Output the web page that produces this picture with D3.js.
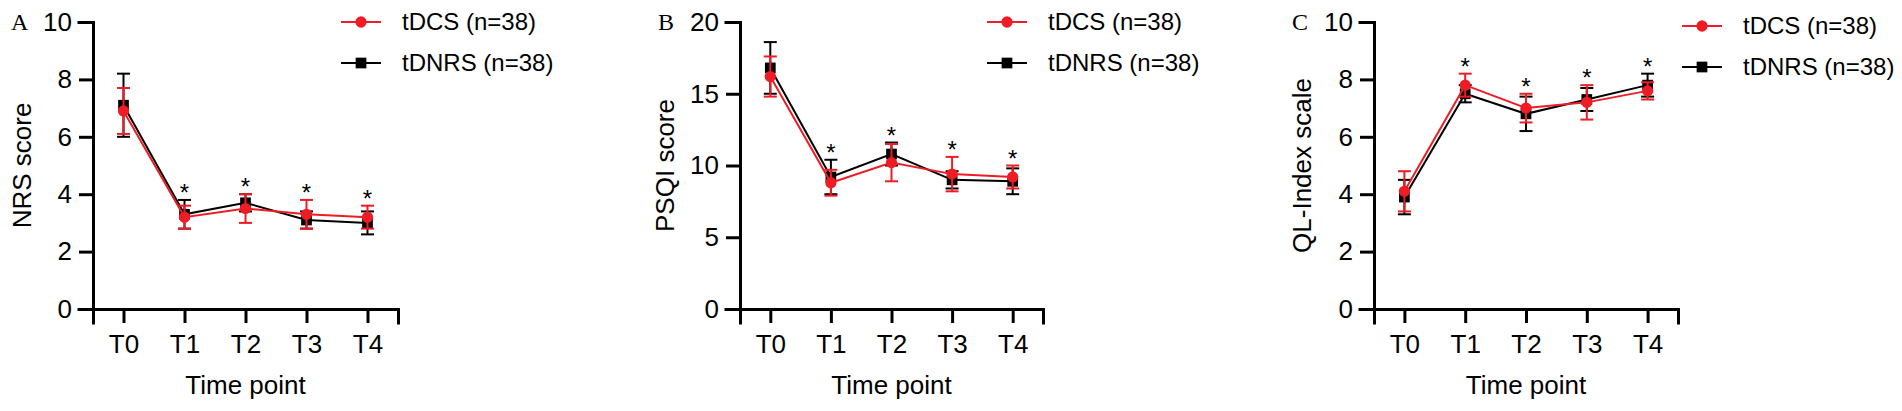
<!DOCTYPE html>
<html>
<head>
<meta charset="utf-8">
<script src="https://cdn.jsdelivr.net/npm/d3@7"></script>
<style>
  html, body { margin: 0; padding: 0; background: #fff; }
  svg { display: block; font-family: Arial, "Liberation Sans", sans-serif; }
</style>
</head>
<body>
<div id="chart"></div>
<script>
// Three panels: NRS, PSQI and QL-Index by time point, tDCS vs tDNRS (mean ± SD)

const timePoints = ["T0", "T1", "T2", "T3", "T4"];
const seriesNames = ["tDCS (n=38)", "tDNRS (n=38)"];
const starred = ["T1", "T2", "T3", "T4"];

// A: NRS score
const nrsDcsMean = [6.9, 3.2, 3.5, 3.3, 3.2];
const nrsDcsSd = [0.8, 0.4, 0.5, 0.5, 0.4];
const nrsDnrsMean = [7.1, 3.3, 3.7, 3.1, 3.0];
const nrsDnrsSd = [1.1, 0.5, 0.3, 0.3, 0.4];

// B: PSQI score
const psqiDcsMean = [16.2, 8.8, 10.2, 9.4, 9.2];
const psqiDcsSd = [1.4, 0.9, 1.3, 1.2, 0.8];
const psqiDnrsMean = [16.8, 9.2, 10.8, 9.0, 8.9];
const psqiDnrsSd = [1.8, 1.2, 0.8, 0.6, 0.9];

// C: QL-Index scale
const qlDcsMean = [4.1, 7.8, 7.0, 7.2, 7.6];
const qlDcsSd = [0.7, 0.4, 0.5, 0.6, 0.3];
const qlDnrsMean = [3.9, 7.5, 6.8, 7.3, 7.8];
const qlDnrsSd = [0.6, 0.3, 0.6, 0.4, 0.4];

const nrsTicks = [0, 2, 4, 6, 8, 10];
const psqiTicks = [0, 5, 10, 15, 20];
const qlTicks = [0, 2, 4, 6, 8, 10];

const W = 1902, H = 411;
const RED = "#ee1c24";
const BLACK = "#000";

const svg = d3.select("#chart").append("svg")
  .attr("width", W)
  .attr("height", H)
  .attr("viewBox", [0, 0, W, H]);

function zip(means, sds) {
  return timePoints.map((t, i) => ({ t, mean: means[i], sd: sds[i] }));
}

const panels = [
  {
    letter: "A", yLabel: "NRS score", ticks: nrsTicks,
    x0: 93, x1: 398, legendX: 341, legendY: 22, titleOff: 62,
    dcs: zip(nrsDcsMean, nrsDcsSd), dnrs: zip(nrsDnrsMean, nrsDnrsSd)
  },
  {
    letter: "B", yLabel: "PSQI score", ticks: psqiTicks,
    x0: 740, x1: 1043, legendX: 987, legendY: 22, titleOff: 66,
    dcs: zip(psqiDcsMean, psqiDcsSd), dnrs: zip(psqiDnrsMean, psqiDnrsSd)
  },
  {
    letter: "C", yLabel: "QL-Index scale", ticks: qlTicks,
    x0: 1374, x1: 1678, legendX: 1682, legendY: 26, titleOff: 63,
    dcs: zip(qlDcsMean, qlDcsSd), dnrs: zip(qlDnrsMean, qlDnrsSd)
  }
];

const yTop = 22, yBottom = 309;

function drawSeries(g, x, y, data, color, shape) {
  const line = d3.line().x(d => x(d.t)).y(d => y(d.mean));
  g.append("path")
    .datum(data)
    .attr("d", line)
    .attr("fill", "none")
    .attr("stroke", color)
    .attr("stroke-width", 2);

  const err = g.append("g").attr("stroke", color).attr("stroke-width", 2);
  data.forEach(d => {
    const cx = x(d.t);
    const hi = y(d.mean + d.sd), lo = y(d.mean - d.sd);
    err.append("line").attr("x1", cx).attr("x2", cx).attr("y1", hi).attr("y2", lo);
    err.append("line").attr("x1", cx - 6.5).attr("x2", cx + 6.5).attr("y1", hi).attr("y2", hi);
    err.append("line").attr("x1", cx - 6.5).attr("x2", cx + 6.5).attr("y1", lo).attr("y2", lo);
  });

  const sym = d3.symbol().type(shape === "circle" ? d3.symbolCircle : d3.symbolSquare)
    .size(shape === "circle" ? 100 : 115);
  g.append("g").selectAll("path")
    .data(data)
    .join("path")
    .attr("transform", d => `translate(${x(d.t)},${y(d.mean)})`)
    .attr("d", sym)
    .attr("fill", color);
}

panels.forEach(p => {
  const g = svg.append("g");
  const yMax = d3.max(p.ticks);

  const x = d3.scalePoint().domain(timePoints).range([p.x0, p.x1]).padding(0.5);
  const y = d3.scaleLinear().domain([0, yMax]).range([yBottom, yTop]);

  // axes
  const xAxis = g.append("g")
    .attr("transform", `translate(0,${yBottom})`)
    .call(d3.axisBottom(x).tickSizeOuter(0).tickSize(14).tickPadding(12));
  const yAxis = g.append("g")
    .attr("transform", `translate(${p.x0},0)`)
    .call(d3.axisLeft(y).tickValues(p.ticks).tickSizeOuter(0).tickSize(14).tickPadding(7));

  [xAxis, yAxis].forEach(a => {
    a.select(".domain").attr("stroke-width", 3).attr("stroke-linecap", "square");
    a.selectAll(".tick line").attr("stroke-width", 3);
    a.selectAll(".tick text")
      .attr("font-size", 26)
      .attr("font-family", "Arial, 'Liberation Sans', sans-serif")
      .attr("fill", "#000");
  });

  // axis titles
  g.append("text")
    .attr("x", (p.x0 + p.x1) / 2)
    .attr("y", 394)
    .attr("text-anchor", "middle")
    .attr("font-size", 26)
    .text("Time point");

  g.append("text")
    .attr("transform", `translate(${p.x0 - p.titleOff},${(yTop + yBottom) / 2}) rotate(-90)`)
    .attr("text-anchor", "middle")
    .attr("font-size", 26)
    .text(p.yLabel);

  // panel letter
  g.append("text")
    .attr("x", p.x0 - 82)
    .attr("y", 30)
    .attr("font-family", "'Liberation Serif', 'DejaVu Serif', serif")
    .attr("font-size", 24)
    .text(p.letter);

  // series: black under red
  drawSeries(g, x, y, p.dnrs, BLACK, "square");
  drawSeries(g, x, y, p.dcs, RED, "circle");

  // significance stars above the highest error bar
  starred.forEach(t => {
    const i = timePoints.indexOf(t);
    const top = Math.max(p.dcs[i].mean + p.dcs[i].sd, p.dnrs[i].mean + p.dnrs[i].sd);
    g.append("text")
      .attr("x", x(t))
      .attr("y", y(top) + 1)
      .attr("text-anchor", "middle")
      .attr("font-size", 24)
      .text("*");
  });

  // legend
  const leg = g.append("g").attr("transform", `translate(${p.legendX},${p.legendY})`);
  [[RED, "circle"], [BLACK, "square"]].forEach(([color, shape], i) => {
    const row = leg.append("g").attr("transform", `translate(0,${i * 41})`);
    row.append("line").attr("x1", 0).attr("x2", 40)
      .attr("stroke", color).attr("stroke-width", 2);
    row.append("path")
      .attr("transform", "translate(20,0)")
      .attr("d", d3.symbol().type(shape === "circle" ? d3.symbolCircle : d3.symbolSquare)
        .size(shape === "circle" ? 100 : 115))
      .attr("fill", color);
    row.append("text")
      .attr("x", 61)
      .attr("dy", "0.35em")
      .attr("font-size", 24)
      .text(seriesNames[i]);
  });
});
</script>
</body>
</html>
